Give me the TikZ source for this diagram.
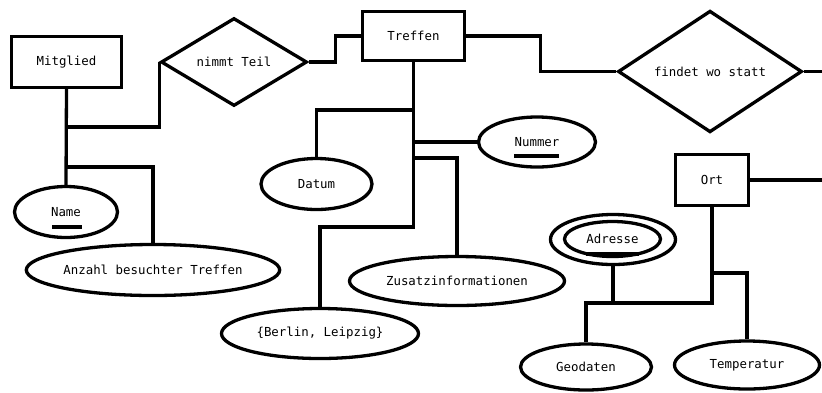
\documentclass[tikz,border=0pt]{standalone}
\usepackage{fontspec}
\setmonofont{DejaVu Sans Mono}
\usetikzlibrary{shapes.geometric,calc}
\begin{document}
\begin{tikzpicture}[x=1pt,y=-1pt,
  every node/.style={font=\ttfamily\fontsize{12.4}{14}\selectfont, inner sep=0pt},
  ent/.style={draw, line width=3.3pt, rectangle},
  rel/.style={draw, line width=3.3pt, diamond},
  attr/.style={draw, line width=3.3pt, ellipse},
  conn/.style={line width=3.3pt},
  key/.style={line width=3.3pt}]
\useasboundingbox (0,0) rectangle (822,392);
% entities
\node[ent, minimum width=110pt, minimum height=51pt] (mit) at (66.5,62) {Mitglied};
\node[ent, minimum width=102pt, minimum height=49pt] (tr) at (413.5,36) {Treffen};
\node[ent, minimum width=73pt, minimum height=51pt] (ort) at (712,180) {Ort};
% relationships
\node[rel, minimum width=146pt, minimum height=88pt] (nt) at (234,62) {nimmt Teil};
\node[rel, minimum width=184pt, minimum height=111pt] (fws) at (710,71.5) {findet wo statt};
% attributes
\node[attr, minimum width=103pt, minimum height=51pt] (name) at (66,212) {Name};
\node[attr, minimum width=253pt, minimum height=51pt] (anz) at (153,270) {Anzahl besuchter Treffen};
\node[attr, minimum width=111pt, minimum height=51pt] (dat) at (316.5,184) {Datum};
\node[attr, minimum width=117pt, minimum height=50pt] (num) at (537,142) {Nummer};
\node[attr, minimum width=215pt, minimum height=49pt] (zus) at (457,281) {Zusatzinformationen};
\node[attr, minimum width=197pt, minimum height=50pt] (ber) at (320,333.5) {\{Berlin, Leipzig\}};
\node[attr, minimum width=125pt, minimum height=50pt] (adr) at (613,239.5) {};
\node[attr, minimum width=96pt, minimum height=35pt] (adri) at (612.5,239) {Adresse};
\node[attr, minimum width=131pt, minimum height=46pt] (geo) at (586,367) {Geodaten};
\node[attr, minimum width=145pt, minimum height=48pt] (tmp) at (747,365) {Temperatur};
% key underlines
\draw[key] ($(name.center)+(-14,15)$) -- ($(name.center)+(16,15)$);
\draw[key] ($(num.center)+(-23,14)$) -- ($(num.center)+(22,14)$);
\draw[key] ($(adri.center)+(-26.5,15)$) -- ($(adri.center)+(26.5,15)$);
% free ends
\coordinate (fwsend) at (822,71.5);
\coordinate (ortend) at (822,180);
% connectors
\draw[conn] (mit.south) -- (name.north);
\draw[conn] (mit.south |- 0,127) -| (nt.west);
\draw[conn] (mit.south |- 0,167) -| (anz.north);
\draw[conn] (nt.east) -- ++(27,0) |- (tr.west);
\draw[conn] (tr.east) -- ++(74,0) |- (fws.west);
\draw[conn] (fws.east) -- (fwsend);
\draw[conn] (tr.south) -- (tr.south |- 0,227) -| (ber.north);
\draw[conn] (tr.south |- 0,110) -| (dat.north);
\draw[conn] (tr.south |- num.west) -- (num.west);
\draw[conn] (tr.south |- 0,158) -| (zus.north);
\draw[conn] (ort.east) -- (ortend);
\draw[conn] (ort.south) -- (ort.south |- 0,303) -| (geo.north);
\draw[conn] (ort.south |- 0,273) -| (tmp.north);
\draw[conn] (adr.south) -- (adr.south |- 0,303);
\end{tikzpicture}
\end{document}
